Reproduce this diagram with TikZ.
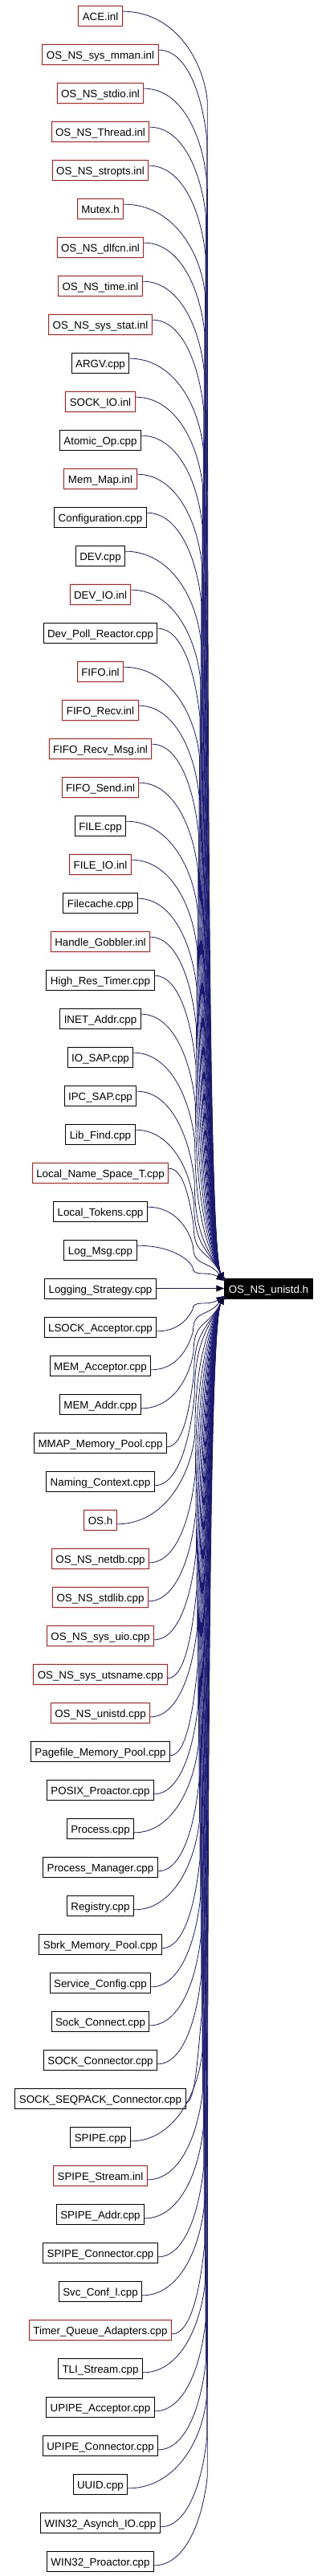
\documentclass[tikz,border=0pt]{standalone}
\usepackage{fontspec}
\setmainfont{Liberation Sans}
\usetikzlibrary{arrows.meta, positioning, calc}

\definecolor{edgeblue}{HTML}{191970}

\begin{document}
\begin{tikzpicture} [node distance = 36pt, on grid,
    doc/.style = {draw, line width=0.75pt, inner xsep=3.75pt, inner ysep=0pt,
      minimum height=18.75pt, text height=9.4pt, text depth=0pt,
      font=\fontsize{10}{12}\selectfont},
    docred/.style = {doc, draw=red},
    hdr/.style = {doc, fill=black, text=white},
    dep/.style = {draw=edgeblue, line width=0.6pt,
      -{Triangle[length=7.5pt, width=6pt]},
      to path={let \p1 = (\tikztostart.east), \p2 = (\tikztotarget.west),
        \n1 = {sign(\y1-\y2)}, \n2 = {abs(\y1-\y2)},
        \n3 = {min(0.45*\n2, 80pt)}, \n4 = {\x2-30pt+0.012*\n2},
        \n5 = {min(30pt, 0.5*(\n2-\n3))} in
        ({\x1}, {\y1+(\n1)*4pt})
        .. controls ({0.4*\x1+0.6*\n4}, {\y1+(\n1)*4pt})
        and ({\n4-4pt}, {\y1-(\n1)*0.5*\n3}) .. ({\n4}, {\y1-(\n1)*\n3})
        .. controls ({\n4}, {\y1-(\n1)*\n3-(\n1)*0.5*(\n2-\n3)})
        and ({\x2-15pt}, {\y2+(\n1)*7pt+(\n1)*\n5}) .. ({\x2}, {\y2+(\n1)*7pt})}}]

    \useasboundingbox (-93.75pt, 14.625pt) rectangle (210.75pt, -2389.875pt);

    \node (ace) [docred] {ACE.inl};
    \node (mman) [docred, below = of ace] {OS\_NS\_sys\_mman.inl};
    \node (stdio) [docred, below = of mman] {OS\_NS\_stdio.inl};
    \node (thread) [docred, below = of stdio] {OS\_NS\_Thread.inl};
    \node (stropts) [docred, below = of thread] {OS\_NS\_stropts.inl};
    \node (mutex) [docred, below = of stropts] {Mutex.h};
    \node (dlfcn) [docred, below = of mutex] {OS\_NS\_dlfcn.inl};
    \node (time) [docred, below = of dlfcn] {OS\_NS\_time.inl};
    \node (sysstat) [docred, below = of time] {OS\_NS\_sys\_stat.inl};
    \node (argv) [doc, below = of sysstat] {ARGV.cpp};
    \node (sockio) [docred, below = of argv] {SOCK\_IO.inl};
    \node (atomic) [doc, below = of sockio] {Atomic\_Op.cpp};
    \node (memmap) [docred, below = of atomic] {Mem\_Map.inl};
    \node (config) [doc, below = of memmap] {Configuration.cpp};
    \node (dev) [doc, below = of config] {DEV.cpp};
    \node (devio) [docred, below = of dev] {DEV\_IO.inl};
    \node (devpoll) [doc, below = of devio] {Dev\_Poll\_Reactor.cpp};
    \node (fifo) [docred, below = of devpoll] {FIFO.inl};
    \node (fiforecv) [docred, below = of fifo] {FIFO\_Recv.inl};
    \node (fiforecvmsg) [docred, below = of fiforecv] {FIFO\_Recv\_Msg.inl};
    \node (fifosend) [docred, below = of fiforecvmsg] {FIFO\_Send.inl};
    \node (file) [doc, below = of fifosend] {FILE.cpp};
    \node (fileio) [docred, below = of file] {FILE\_IO.inl};
    \node (filecache) [doc, below = of fileio] {Filecache.cpp};
    \node (gobbler) [docred, below = of filecache] {Handle\_Gobbler.inl};
    \node (hrtimer) [doc, below = of gobbler] {High\_Res\_Timer.cpp};
    \node (inetaddr) [doc, below = of hrtimer] {INET\_Addr.cpp};
    \node (iosap) [doc, below = of inetaddr] {IO\_SAP.cpp};
    \node (ipcsap) [doc, below = of iosap] {IPC\_SAP.cpp};
    \node (libfind) [doc, below = of ipcsap] {Lib\_Find.cpp};
    \node (lnst) [docred, below = of libfind] {Local\_Name\_Space\_T.cpp};
    \node (ltokens) [doc, below = of lnst] {Local\_Tokens.cpp};
    \node (logmsg) [doc, below = of ltokens] {Log\_Msg.cpp};
    \node (logstrat) [doc, below = of logmsg] {Logging\_Strategy.cpp};
    \node (lsockacc) [doc, below = of logstrat] {LSOCK\_Acceptor.cpp};
    \node (memacc) [doc, below = of lsockacc] {MEM\_Acceptor.cpp};
    \node (memaddr) [doc, below = of memacc] {MEM\_Addr.cpp};
    \node (mmap) [doc, below = of memaddr] {MMAP\_Memory\_Pool.cpp};
    \node (naming) [doc, below = of mmap] {Naming\_Context.cpp};
    \node (os) [docred, below = of naming] {OS.h};
    \node (netdb) [docred, below = of os] {OS\_NS\_netdb.cpp};
    \node (stdlib) [docred, below = of netdb] {OS\_NS\_stdlib.cpp};
    \node (sysuio) [docred, below = of stdlib] {OS\_NS\_sys\_uio.cpp};
    \node (utsname) [docred, below = of sysuio] {OS\_NS\_sys\_utsname.cpp};
    \node (unistdcpp) [docred, below = of utsname] {OS\_NS\_unistd.cpp};
    \node (pagefile) [doc, below = of unistdcpp] {Pagefile\_Memory\_Pool.cpp};
    \node (posix) [doc, below = of pagefile] {POSIX\_Proactor.cpp};
    \node (process) [doc, below = of posix] {Process.cpp};
    \node (procmgr) [doc, below = of process] {Process\_Manager.cpp};
    \node (registry) [doc, below = of procmgr] {Registry.cpp};
    \node (sbrk) [doc, below = of registry] {Sbrk\_Memory\_Pool.cpp};
    \node (svcconfig) [doc, below = of sbrk] {Service\_Config.cpp};
    \node (sockconnect) [doc, below = of svcconfig] {Sock\_Connect.cpp};
    \node (sockconn) [doc, below = of sockconnect] {SOCK\_Connector.cpp};
    \node (seqpack) [doc, below = of sockconn] {SOCK\_SEQPACK\_Connector.cpp};
    \node (spipe) [doc, below = of seqpack] {SPIPE.cpp};
    \node (spipestream) [docred, below = of spipe] {SPIPE\_Stream.inl};
    \node (spipeaddr) [doc, below = of spipestream] {SPIPE\_Addr.cpp};
    \node (spipeconn) [doc, below = of spipeaddr] {SPIPE\_Connector.cpp};
    \node (svcconfl) [doc, below = of spipeconn] {Svc\_Conf\_l.cpp};
    \node (tqadapt) [docred, below = of svcconfl] {Timer\_Queue\_Adapters.cpp};
    \node (tlistream) [doc, below = of tqadapt] {TLI\_Stream.cpp};
    \node (upipeacc) [doc, below = of tlistream] {UPIPE\_Acceptor.cpp};
    \node (upipeconn) [doc, below = of upipeacc] {UPIPE\_Connector.cpp};
    \node (uuid) [doc, below = of upipeconn] {UUID.cpp};
    \node (asynchio) [doc, below = of uuid] {WIN32\_Asynch\_IO.cpp};
    \node (proactor) [doc, below = of asynchio] {WIN32\_Proactor.cpp};

    \node (unistd) [hdr, right = 157.125pt of logstrat] {OS\_NS\_unistd.h};

    \path [dep] (ace) edge (unistd);
    \path [dep] (mman) edge (unistd);
    \path [dep] (stdio) edge (unistd);
    \path [dep] (thread) edge (unistd);
    \path [dep] (stropts) edge (unistd);
    \path [dep] (mutex) edge (unistd);
    \path [dep] (dlfcn) edge (unistd);
    \path [dep] (time) edge (unistd);
    \path [dep] (sysstat) edge (unistd);
    \path [dep] (argv) edge (unistd);
    \path [dep] (sockio) edge (unistd);
    \path [dep] (atomic) edge (unistd);
    \path [dep] (memmap) edge (unistd);
    \path [dep] (config) edge (unistd);
    \path [dep] (dev) edge (unistd);
    \path [dep] (devio) edge (unistd);
    \path [dep] (devpoll) edge (unistd);
    \path [dep] (fifo) edge (unistd);
    \path [dep] (fiforecv) edge (unistd);
    \path [dep] (fiforecvmsg) edge (unistd);
    \path [dep] (fifosend) edge (unistd);
    \path [dep] (file) edge (unistd);
    \path [dep] (fileio) edge (unistd);
    \path [dep] (filecache) edge (unistd);
    \path [dep] (gobbler) edge (unistd);
    \path [dep] (hrtimer) edge (unistd);
    \path [dep] (inetaddr) edge (unistd);
    \path [dep] (iosap) edge (unistd);
    \path [dep] (ipcsap) edge (unistd);
    \path [dep] (libfind) edge (unistd);
    \path [dep] (lnst) edge (unistd);
    \path [dep] (ltokens) edge (unistd);
    \path [dep] (logmsg) edge (unistd);
    \path [dep] (logstrat) edge (unistd);
    \path [dep] (lsockacc) edge (unistd);
    \path [dep] (memacc) edge (unistd);
    \path [dep] (memaddr) edge (unistd);
    \path [dep] (mmap) edge (unistd);
    \path [dep] (naming) edge (unistd);
    \path [dep] (os) edge (unistd);
    \path [dep] (netdb) edge (unistd);
    \path [dep] (stdlib) edge (unistd);
    \path [dep] (sysuio) edge (unistd);
    \path [dep] (utsname) edge (unistd);
    \path [dep] (unistdcpp) edge (unistd);
    \path [dep] (pagefile) edge (unistd);
    \path [dep] (posix) edge (unistd);
    \path [dep] (process) edge (unistd);
    \path [dep] (procmgr) edge (unistd);
    \path [dep] (registry) edge (unistd);
    \path [dep] (sbrk) edge (unistd);
    \path [dep] (svcconfig) edge (unistd);
    \path [dep] (sockconnect) edge (unistd);
    \path [dep] (sockconn) edge (unistd);
    \path [dep] (seqpack) edge (unistd);
    \path [dep] (spipe) edge (unistd);
    \path [dep] (spipestream) edge (unistd);
    \path [dep] (spipeaddr) edge (unistd);
    \path [dep] (spipeconn) edge (unistd);
    \path [dep] (svcconfl) edge (unistd);
    \path [dep] (tqadapt) edge (unistd);
    \path [dep] (tlistream) edge (unistd);
    \path [dep] (upipeacc) edge (unistd);
    \path [dep] (upipeconn) edge (unistd);
    \path [dep] (uuid) edge (unistd);
    \path [dep] (asynchio) edge (unistd);
    \path [dep] (proactor) edge (unistd);

\end{tikzpicture}
\end{document}
